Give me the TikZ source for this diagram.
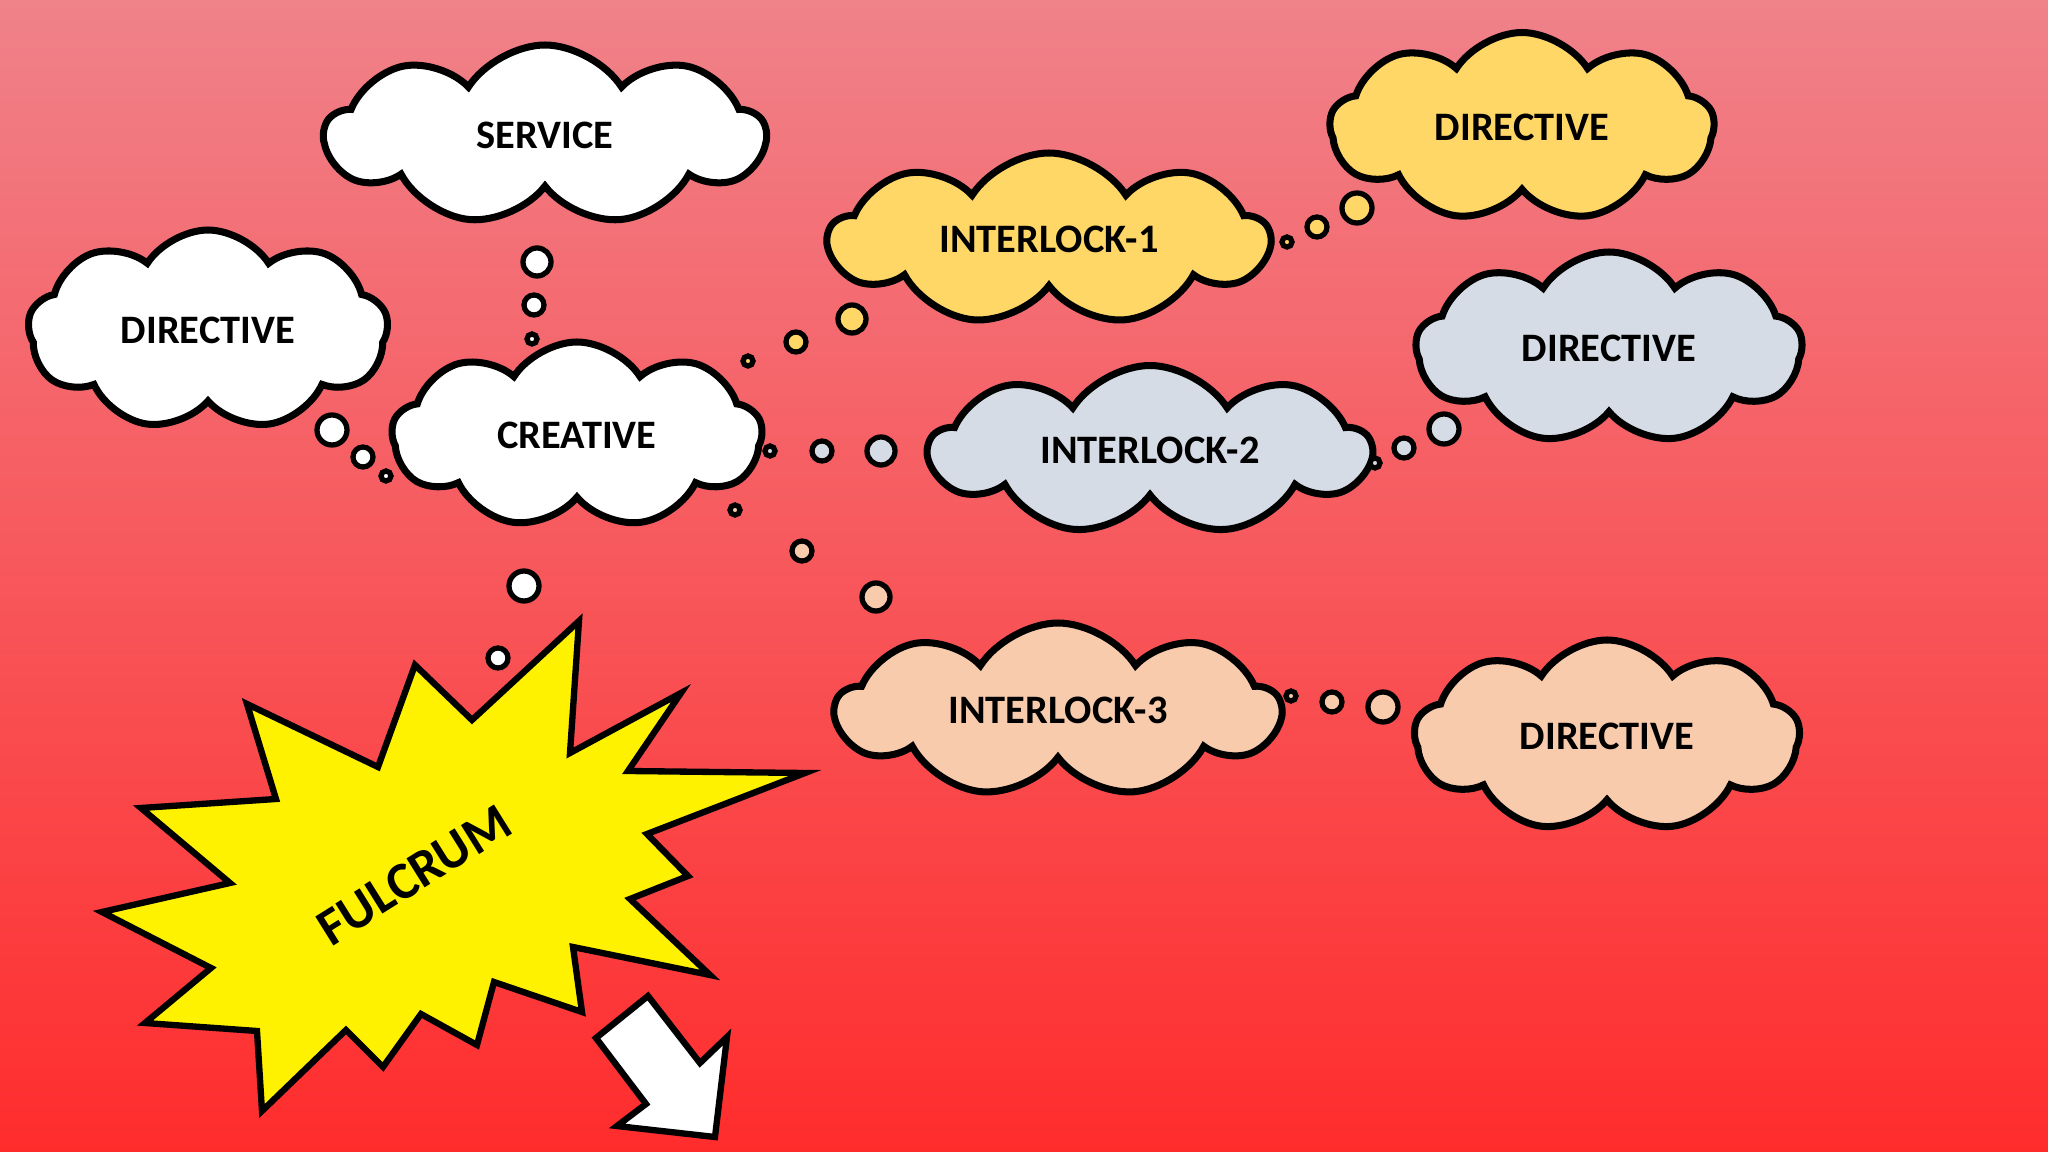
\documentclass[tikz,border=0pt]{standalone}
\usepackage{fontspec}
\setmainfont{Carlito}
\usetikzlibrary{shapes.symbols}

\definecolor{bgtop}{RGB}{240,130,138}
\definecolor{bgbottom}{RGB}{255,44,44}
\definecolor{ilyellow}{RGB}{255,215,102}
\definecolor{ilgrey}{RGB}{214,220,229}
\definecolor{ilpeach}{RGB}{248,203,173}

\begin{document}
\begin{tikzpicture}[
	thought/.style={draw, line width=2pt, cloud, cloud puffs=9, cloud puff arc=115, cloud ignores aspect, inner sep=0pt, font=\fontsize{11.5}{14}\selectfont\bfseries},
	bubble/.style={draw, line width=1.5pt}]
	\useasboundingbox (0,0) rectangle (20.48,-11.52);
	\shade[top color=bgtop, bottom color=bgbottom] (0,0) rectangle (20.48,-11.52);

	% clouds
	\node[thought, fill=white, minimum width=4.4cm, minimum height=1.8cm] (service) at (5.45,-1.35) {SERVICE};
	\node[thought, fill=white, minimum width=3.6cm, minimum height=2cm] (dirA) at (2.08,-3.3) {DIRECTIVE};
	\node[thought, fill=white, minimum width=3.7cm, minimum height=1.86cm] (creative) at (5.77,-4.35) {CREATIVE};
	\node[thought, fill=ilyellow, minimum width=4.4cm, minimum height=1.72cm] (inter1) at (10.49,-2.39) {INTERLOCK-1};
	\node[thought, fill=ilyellow, minimum width=3.84cm, minimum height=1.89cm] (dirB) at (15.22,-1.27) {DIRECTIVE};
	\node[thought, fill=ilgrey, minimum width=4.41cm, minimum height=1.69cm] (inter2) at (11.5,-4.5) {INTERLOCK-2};
	\node[thought, fill=ilgrey, minimum width=3.86cm, minimum height=1.92cm] (dirC) at (16.09,-3.48) {DIRECTIVE};
	\node[thought, fill=ilpeach, minimum width=4.44cm, minimum height=1.74cm] (inter3) at (10.58,-7.1) {INTERLOCK-3};
	\node[thought, fill=ilpeach, minimum width=3.85cm, minimum height=1.92cm] (dirD) at (16.07,-7.36) {DIRECTIVE};

	% thought bubbles
	\foreach \x/\y/\r in {5.37/-2.62/.14, 5.34/-3.05/.1, 5.32/-3.39/.05, 3.32/-4.3/.15, 3.63/-4.57/.1, 3.86/-4.76/.05, 5.24/-5.86/.15, 4.98/-6.58/.1}
		\draw[bubble, fill=white] (\x,\y) circle (\r);
	\foreach \x/\y/\r in {7.48/-3.61/.05, 7.96/-3.42/.1, 8.52/-3.19/.14, 12.87/-2.42/.05, 13.17/-2.27/.1, 13.57/-2.08/.15}
		\draw[bubble, fill=ilyellow] (\x,\y) circle (\r);
	\foreach \x/\y/\r in {7.7/-4.51/.05, 8.22/-4.51/.1, 8.81/-4.51/.14, 13.75/-4.63/.05, 14.04/-4.48/.1, 14.44/-4.29/.15}
		\draw[bubble, fill=ilgrey] (\x,\y) circle (\r);
	\foreach \x/\y/\r in {7.35/-5.1/.05, 8.02/-5.51/.1, 8.76/-5.97/.14, 12.91/-6.96/.05, 13.32/-7.02/.1, 13.83/-7.07/.15}
		\draw[bubble, fill=ilpeach] (\x,\y) circle (\r);

	% burst and arrow
	\draw[line width=1.8pt, fill=yellow, line join=miter] (5.79,-6.21) -- (4.72,-7.2) -- (4.15,-6.65) -- (3.78,-7.67) -- (2.47,-7.04) -- (2.76,-7.99) -- (1.41,-8.08) -- (2.3,-8.83) -- (1.02,-9.12) -- (2.11,-9.68) -- (1.45,-10.23) -- (2.57,-10.31) -- (2.62,-11.11) -- (3.46,-10.3) -- (3.83,-10.67) -- (4.21,-10.14) -- (4.77,-10.45) -- (4.94,-9.82) -- (5.82,-10.12) -- (5.73,-9.47) -- (7.1,-9.75) -- (6.3,-8.99) -- (6.88,-8.76) -- (6.47,-8.34) -- (8.05,-7.73) -- (6.28,-7.71) -- (6.81,-6.93) -- (5.7,-7.53) -- cycle;
	\node[rotate=32, font=\fontsize{15}{18}\selectfont\bfseries] (fulcrum) at (4.14,-8.75) {FULCRUM};
	\draw[line width=1.8pt, fill=white] (6.48,-9.96) -- (7,-10.63) -- (7.27,-10.37) -- (7.15,-11.37) -- (6.17,-11.26) -- (6.46,-11.04) -- (5.96,-10.38) -- cycle;
\end{tikzpicture}
\end{document}
